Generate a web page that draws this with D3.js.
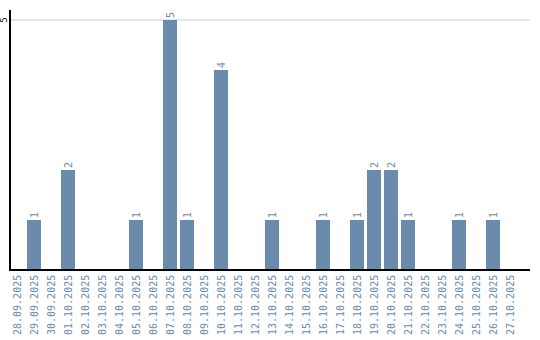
<!DOCTYPE html>
<html>
<head>
<meta charset="utf-8">
<script src="https://cdn.jsdelivr.net/npm/d3@7"></script>
<style>
  body { margin: 0; background: #fff; }
  svg { display: block; }
  text { font-family: "DejaVu Sans Mono", monospace; font-size: 10px; }
</style>
</head>
<body>
<div id="chart"></div>
<script>
const dates = [
  '28.09.2025', '29.09.2025', '30.09.2025', '01.10.2025', '02.10.2025',
  '03.10.2025', '04.10.2025', '05.10.2025', '06.10.2025', '07.10.2025',
  '08.10.2025', '09.10.2025', '10.10.2025', '11.10.2025', '12.10.2025',
  '13.10.2025', '14.10.2025', '15.10.2025', '16.10.2025', '17.10.2025',
  '18.10.2025', '19.10.2025', '20.10.2025', '21.10.2025', '22.10.2025',
  '23.10.2025', '24.10.2025', '25.10.2025', '26.10.2025', '27.10.2025'
];
const counts = [0, 1, 0, 2, 0, 0, 0, 1, 0, 5, 1, 0, 4, 0, 0, 1, 0, 0, 1, 0, 1, 2, 2, 1, 0, 0, 1, 0, 1, 0];
const yTicks = [5];

const width = 540, height = 340;
const barColor = '#6a8bab';

const svg = d3.select('#chart').append('svg')
  .attr('width', width)
  .attr('height', height);

const x = d3.scaleBand()
  .domain(dates)
  .range([8.5, 518.5])
  .paddingInner(0.176)
  .paddingOuter(0.088);

const y = d3.scaleLinear()
  .domain([0, 5])
  .range([270, 20]);

// grid line(s)
svg.append('g')
  .selectAll('line')
  .data(yTicks)
  .join('line')
  .attr('x1', 10).attr('x2', 530)
  .attr('y1', d => y(d)).attr('y2', d => y(d))
  .attr('stroke', '#ccc')
  .attr('stroke-width', 1);

// y tick labels
svg.append('g')
  .selectAll('text')
  .data(yTicks)
  .join('text')
  .attr('transform', d => `translate(7,${y(d)}) rotate(-90)`)
  .attr('text-anchor', 'middle')
  .attr('fill', '#000')
  .style('font-size', '9px')
  .text(d => d);

// bars
const data = dates.map((d, i) => ({ date: d, value: counts[i] }));
svg.append('g')
  .selectAll('rect')
  .data(data.filter(d => d.value > 0))
  .join('rect')
  .attr('x', d => x(d.date))
  .attr('y', d => y(d.value))
  .attr('width', x.bandwidth())
  .attr('height', d => y(0) - y(d.value))
  .attr('fill', barColor);

// value labels
svg.append('g')
  .selectAll('text')
  .data(data.filter(d => d.value > 0))
  .join('text')
  .attr('transform', d => `translate(${x(d.date) + x.bandwidth() / 2 + 3.5},${y(d.value) - 2}) rotate(-90)`)
  .attr('text-anchor', 'start')
  .attr('fill', barColor)
  .text(d => d.value);

// x labels
svg.append('g')
  .selectAll('text')
  .data(dates)
  .join('text')
  .attr('transform', d => `translate(${x(d) + x.bandwidth() / 2 + 3.5},335) rotate(-90)`)
  .attr('text-anchor', 'start')
  .attr('fill', barColor)
  .text(d => d);

// axes lines
svg.append('line')
  .attr('x1', 10).attr('x2', 10)
  .attr('y1', 10).attr('y2', 271)
  .attr('stroke', '#000').attr('stroke-width', 2);
svg.append('line')
  .attr('x1', 9).attr('x2', 530)
  .attr('y1', 270).attr('y2', 270)
  .attr('stroke', '#000').attr('stroke-width', 2);
</script>
</body>
</html>
